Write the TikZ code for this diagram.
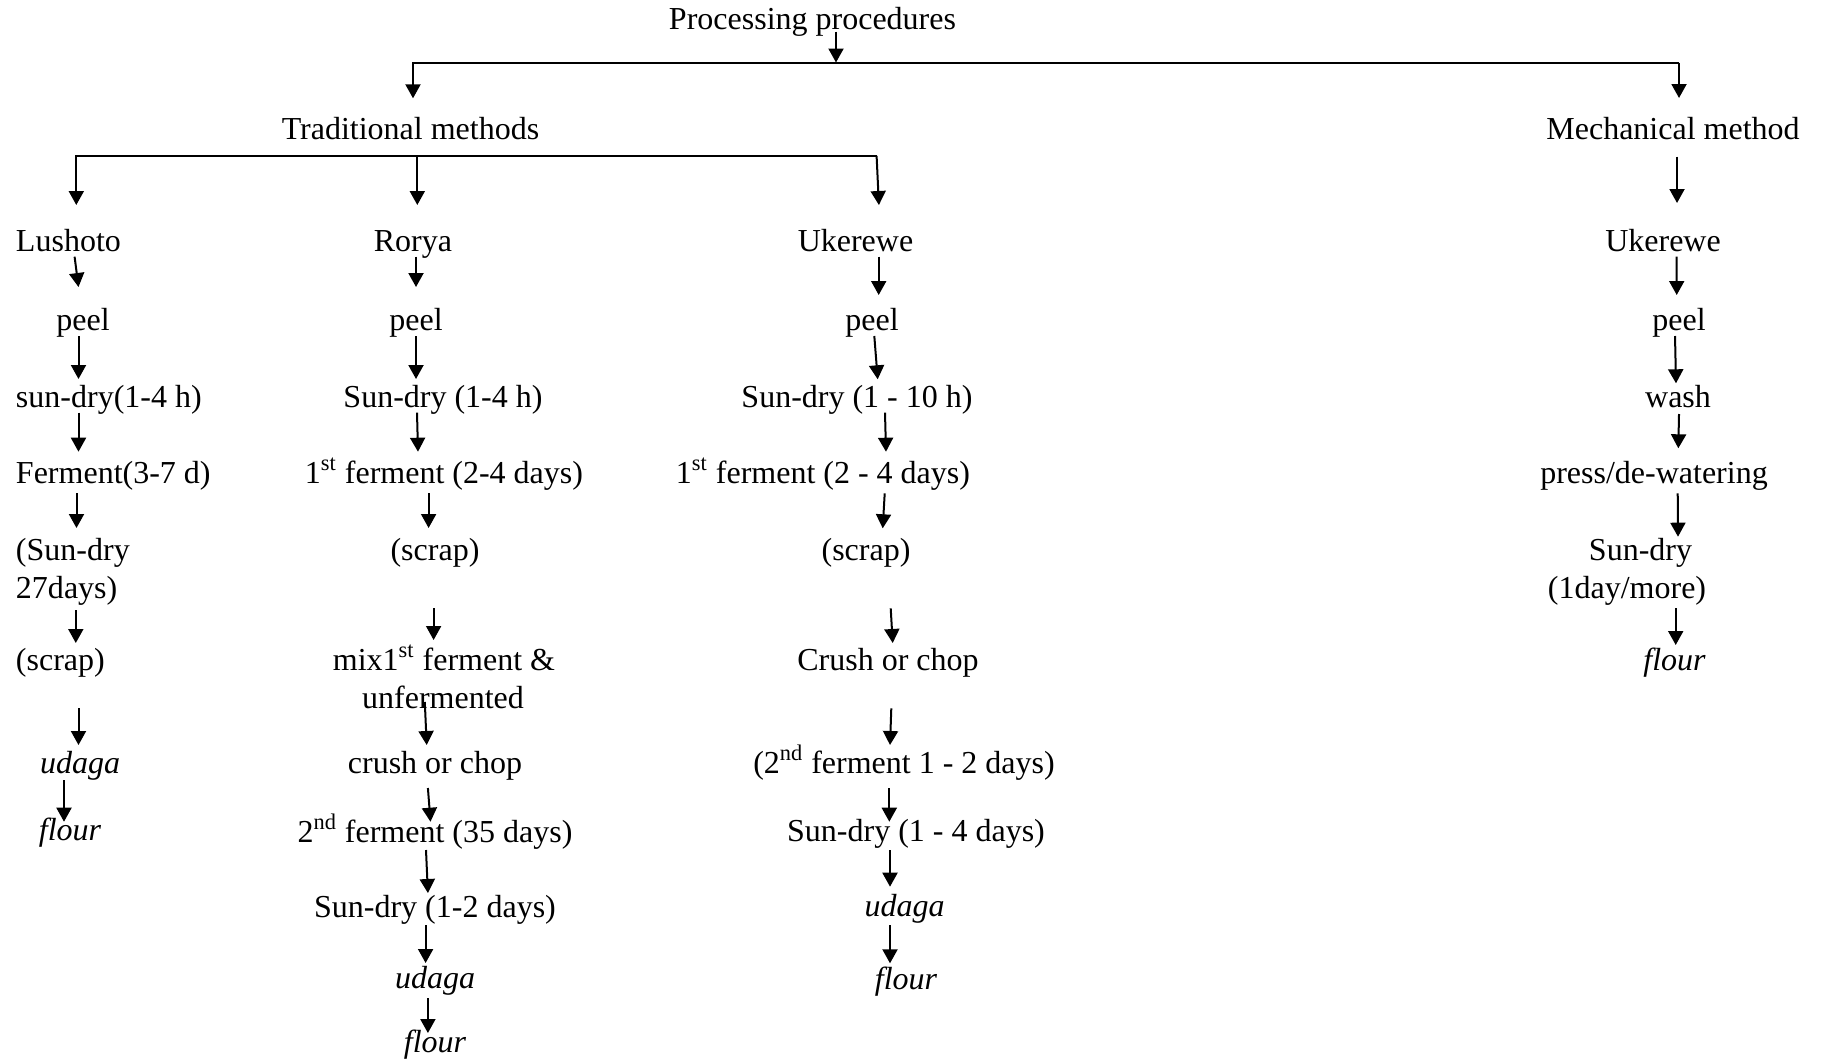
\documentclass[tikz,border=0pt]{standalone}
\usepackage{fontspec}
\setmainfont{Liberation Serif}
\usetikzlibrary{arrows.meta}
\begin{document}
\begin{tikzpicture}[x=0.5pt,y=-0.5pt,
  lab/.style={inner sep=0pt, outer sep=0pt, font=\fontsize{16pt}{19pt}\selectfont},
  itlab/.style={lab, font=\fontsize{16pt}{19pt}\selectfont\itshape},
  arr/.style={line width=1pt, -{Triangle[length=7pt,width=7.5pt]}},
  bar/.style={line width=1pt}]
\useasboundingbox (0,0) rectangle (1823,1060);

% ---- top levels
\node[lab, anchor=base] (pp) at (812.5,29) {Processing procedures};
\node[lab, anchor=base] (tm) at (410.5,139) {Traditional methods};
\node[lab, anchor=base] (mm) at (1673,139) {Mechanical method};

% ---- Lushoto
\node[lab, anchor=base west] (L0) at (16,251) {Lushoto};
\node[lab, anchor=base] (L1) at (83,330) {peel};
\node[lab, anchor=base west] (L2) at (16,407) {sun-dry(1-4 h)};
\node[lab, anchor=base west] (L3) at (16,483) {Ferment(3-7 d)};
\node[lab, anchor=base west] (L4a) at (16,560) {(Sun-dry};
\node[lab, anchor=base west] (L4b) at (16,598) {27days)};
\node[lab, anchor=base west] (L5) at (16,670) {(scrap)};
\node[itlab, anchor=base] (L6) at (80,773) {udaga};
\node[itlab, anchor=base] (L7) at (70,840) {flour};

% ---- Rorya
\node[lab, anchor=base] (R0) at (413,251) {Rorya};
\node[lab, anchor=base] (R1) at (416,330) {peel};
\node[lab, anchor=base] (R2) at (443,407) {Sun-dry (1-4 h)};
\node[lab, anchor=base] (R3) at (444,483) {1\textsuperscript{st} ferment (2-4 days)};
\node[lab, anchor=base] (R4) at (435,560) {(scrap)};
\node[lab, anchor=base] (R5a) at (444,670) {mix1\textsuperscript{st} ferment \&};
\node[lab, anchor=base] (R5b) at (443,708) {unfermented};
\node[lab, anchor=base] (R6) at (435,773) {crush or chop};
\node[lab, anchor=base] (R7) at (435,842) {2\textsuperscript{nd} ferment (35 days)};
\node[lab, anchor=base] (R8) at (435,917) {Sun-dry (1-2 days)};
\node[itlab, anchor=base] (R9) at (435,988) {udaga};
\node[itlab, anchor=base] (R10) at (435,1052) {flour};

% ---- Ukerewe (traditional)
\node[lab, anchor=base] (U0) at (855.5,251) {Ukerewe};
\node[lab, anchor=base] (U1) at (872,330) {peel};
\node[lab, anchor=base] (U2) at (857,407) {Sun-dry (1 - 10 h)};
\node[lab, anchor=base] (U3) at (823,483) {1\textsuperscript{st} ferment (2 - 4 days)};
\node[lab, anchor=base] (U4) at (866,560) {(scrap)};
\node[lab, anchor=base] (U5) at (888,670) {Crush or chop};
\node[lab, anchor=base] (U6) at (904,773) {(2\textsuperscript{nd} ferment 1 - 2 days)};
\node[lab, anchor=base] (U7) at (916,841) {Sun-dry (1 - 4 days)};
\node[itlab, anchor=base] (U8) at (904.5,916) {udaga};
\node[itlab, anchor=base] (U9) at (906,989) {flour};

% ---- Ukerewe (mechanical)
\node[lab, anchor=base] (M0) at (1663,251) {Ukerewe};
\node[lab, anchor=base] (M1) at (1679,330) {peel};
\node[lab, anchor=base] (M2) at (1678,407) {wash};
\node[lab, anchor=base] (M3) at (1654,483) {press/de-watering};
\node[lab, anchor=base] (M4a) at (1640.5,560) {Sun-dry};
\node[lab, anchor=base] (M4b) at (1627,598) {(1day/more)};
\node[itlab, anchor=base] (M5) at (1674.5,670) {flour};

% ---- branching bars
\coordinate (j1) at (836,62.5);
\coordinate (b1l) at (413,62.5);
\coordinate (b1r) at (1679,62.5);
\draw[arr] ([shift={(23.5,2.7)}]pp.base) -- (j1);
\draw[arr] (b1r) -- (b1l) -- ([shift={(2.5,-40.7)}]tm.base);
\draw[arr] (b1r) -- ([shift={(6,-41)}]mm.base);

\coordinate (b2l) at (76.3,156);
\coordinate (b2m) at (417.3,156);
\coordinate (b2r) at (876.6,156);
\draw[arr] (b2r) -- (b2l) -- ([shift={(60.3,-46)}]L0.base west);
\draw[arr] (b2m) -- ([shift={(4.3,-46)}]R0.base);
\draw[arr] (b2r) -- ([shift={(23.4,-46)}]U0.base);
\draw[arr] ([shift={(4,17.7)}]mm.base) -- ([shift={(14,-48)}]M0.base);

% ---- Lushoto arrows
\draw[arr] ([shift={(58.6,5.7)}]L0.base west) -- ([shift={(-4.5,-43)}]L1.base);
\draw[arr] ([shift={(-4.5,6)}]L1.base) -- ([shift={(62.5,-28)}]L2.base west);
\draw[arr] ([shift={(62.5,5.7)}]L2.base west) -- ([shift={(62.5,-31.3)}]L3.base west);
\draw[arr] ([shift={(60.5,10)}]L3.base west) -- ([shift={(60.5,-32)}]L4a.base west);
\draw[arr] ([shift={(59.8,12)}]L4b.base west) -- ([shift={(59.8,-27)}]L5.base west);
\draw[arr] ([shift={(62.5,38)}]L5.base west) -- ([shift={(-1.5,-28)}]L6.base);
\draw[arr] ([shift={(-16,7)}]L6.base) -- ([shift={(-6,-18.3)}]L7.base);

% ---- Rorya arrows
\draw[arr] ([shift={(3,5.7)}]R0.base) -- ([shift={(0,-43)}]R1.base);
\draw[arr] ([shift={(0,6)}]R1.base) -- ([shift={(-27,-28)}]R2.base);
\draw[arr] ([shift={(-26,5.7)}]R2.base) -- ([shift={(-26,-31.3)}]R3.base);
\draw[arr] ([shift={(-15.4,10)}]R3.base) -- ([shift={(-6.4,-32)}]R4.base);
\draw[arr] ([shift={(-1.4,48)}]R4.base) -- ([shift={(-10.4,-30)}]R5a.base);
\draw[arr] ([shift={(-18.2,-6)}]R5b.base) -- ([shift={(-8.3,-28)}]R6.base);
\draw[arr] ([shift={(-7.1,15)}]R6.base) -- ([shift={(-4.5,-20.3)}]R7.base);
\draw[arr] ([shift={(-9,8)}]R7.base) -- ([shift={(-7.1,-24)}]R8.base);
\draw[arr] ([shift={(-9.4,8)}]R8.base) -- ([shift={(-9.4,-25)}]R9.base);
\draw[arr] ([shift={(-7.1,10)}]R9.base) -- ([shift={(-7.1,-19)}]R10.base);

% ---- Ukerewe (traditional) arrows
\draw[arr] ([shift={(23.2,5.7)}]U0.base) -- ([shift={(6.7,-35)}]U1.base);
\draw[arr] ([shift={(2.3,6)}]U1.base) -- ([shift={(20.7,-27.7)}]U2.base);
\draw[arr] ([shift={(28,5.7)}]U2.base) -- ([shift={(63,-31.3)}]U3.base);
\draw[arr] ([shift={(61.7,10.3)}]U3.base) -- ([shift={(16.7,-31.7)}]U4.base);
\draw[arr] ([shift={(24.7,48.3)}]U4.base) -- ([shift={(4.7,-27)}]U5.base);
\draw[arr] ([shift={(3.3,38.3)}]U5.base) -- ([shift={(-14,-28)}]U6.base);
\draw[arr] ([shift={(-14.7,15.3)}]U6.base) -- ([shift={(-26.7,-19.3)}]U7.base);
\draw[arr] ([shift={(-26,9)}]U7.base) -- ([shift={(-14.5,-29.3)}]U8.base);
\draw[arr] ([shift={(-14.5,9)}]U8.base) -- ([shift={(-16,-25.7)}]U9.base);

% ---- Mechanical arrows
\draw[arr] ([shift={(13.7,5.7)}]M0.base) -- ([shift={(-2.3,-35)}]M1.base);
\draw[arr] ([shift={(-4,6)}]M1.base) -- ([shift={(-2,-23.7)}]M2.base);
\draw[arr] ([shift={(1,7)}]M2.base) -- ([shift={(24.3,-34.7)}]M3.base);
\draw[arr] ([shift={(23.7,10.3)}]M3.base) -- ([shift={(37.5,-23.3)}]M4a.base);
\draw[arr] ([shift={(48.7,10.3)}]M4b.base) -- ([shift={(1.2,-25)}]M5.base);
\end{tikzpicture}
\end{document}
